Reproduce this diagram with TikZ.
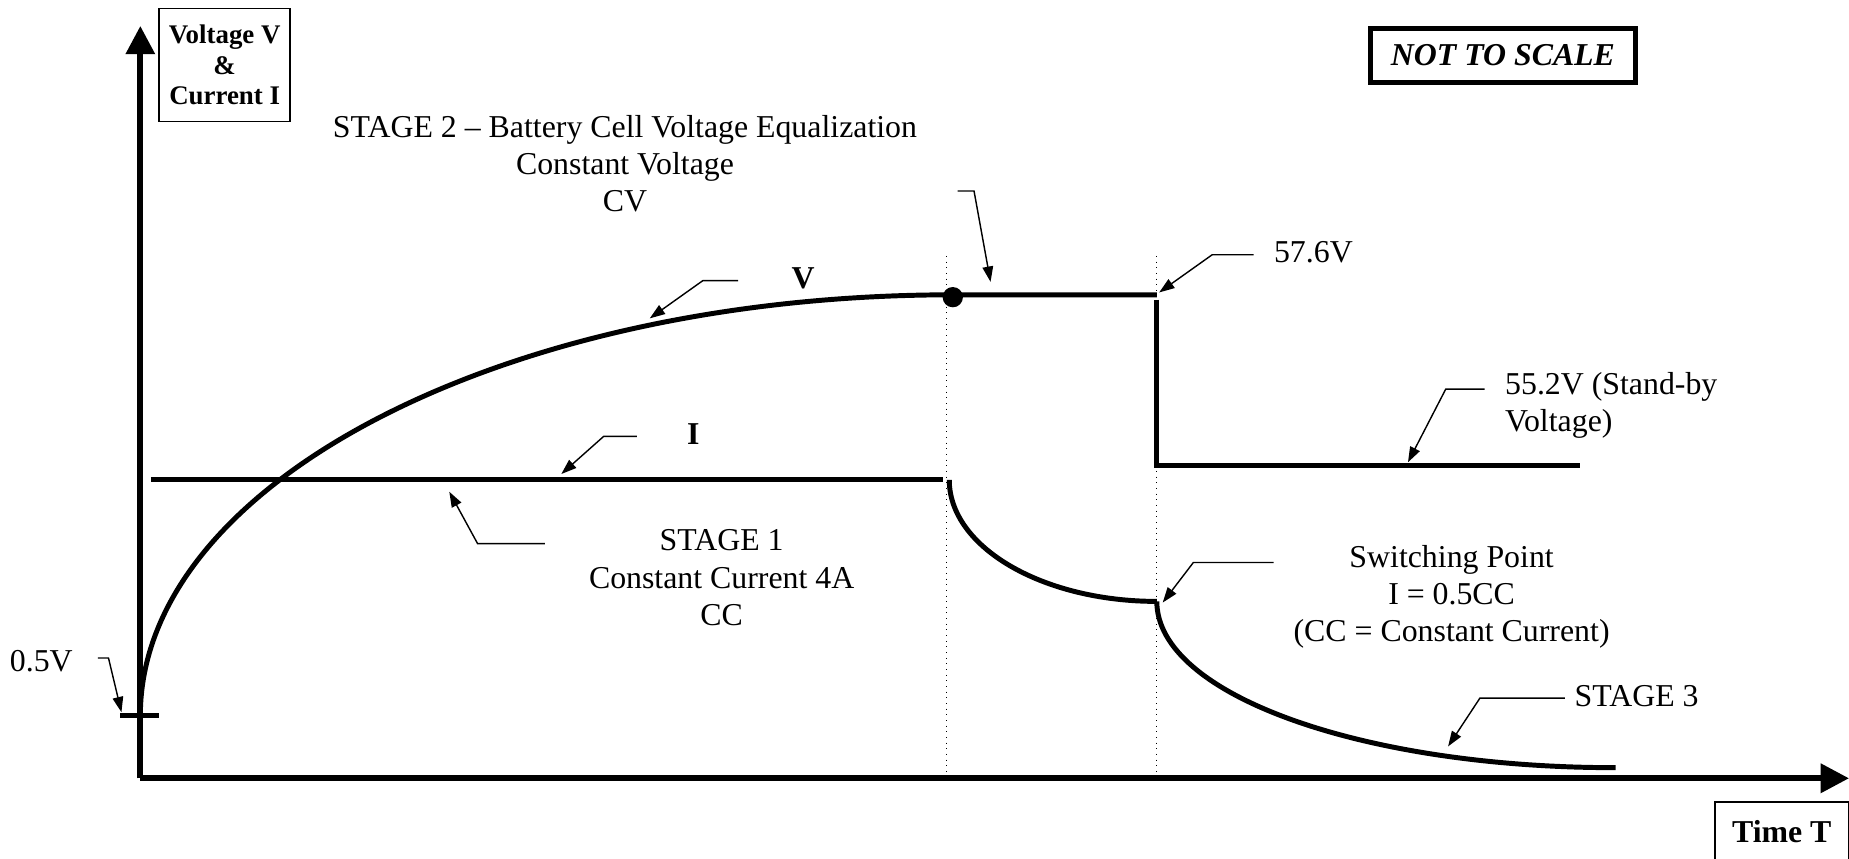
\documentclass[tikz,border=0pt]{standalone}
\usepackage{fontspec}
\setmainfont{Liberation Serif}
\usetikzlibrary{arrows.meta, positioning}

\begin{document}
\begin{tikzpicture}[x=0.5pt, y=-0.5pt,
    every node/.style={inner sep=0pt, font=\fontsize{13.5}{15.8}\selectfont},
    axis/.style={line width=2.4pt, -{Triangle[length=12pt, width=12pt]}},
    curve/.style={line width=2.1pt},
    lead/.style={line width=0.6pt, -{Triangle[length=6.5pt, width=4.5pt]}},
    guide/.style={line width=0.4pt, dotted},
    bold/.style={font=\bfseries\fontsize{13.5}{16}\selectfont}]
  \useasboundingbox (0,0) rectangle (1568,728);

  % axes
  \coordinate (o) at (119,660);
  \coordinate (yt) at (119,22);
  \coordinate (xt) at (1568,660);
  \draw[axis] (o) -- (yt);
  \draw[axis] (o) -- (xt);

  \node[draw, line width=0.6pt, minimum width=55.5pt, minimum height=48pt, align=center,
        font=\bfseries\fontsize{11.4}{13}\selectfont] (vi) at (190.5,55) {Voltage V\\\&\\Current I};
  \node[draw, line width=0.6pt, minimum width=56.5pt, minimum height=25.5pt, bold] (t) at (1511,705.5) {Time T};
  \node[draw, line width=2.2pt, minimum width=112.5pt, minimum height=23pt,
        font=\bfseries\itshape\fontsize{13.5}{16}\selectfont] (nts) at (1274.5,47) {NOT TO SCALE};

  % texts
  \node[align=center] (s2) at (530,139) {STAGE 2 \textendash{} Battery Cell Voltage Equalization\\Constant Voltage\\CV};
  \node[align=center] (s1) at (612,490) {STAGE 1\\Constant Current 4A\\CC};
  \node[align=center] (sw) at (1231,506) {Switching Point\\I = 0.5CC\\(CC = Constant Current)};
  \node[anchor=west] (s3) at (1335,590) {STAGE 3};
  \node[anchor=west] (hi) at (1080,214) {57.6V};
  \node[anchor=west, align=left] (sb) at (1276,344) {55.2V (Stand-by\\Voltage)};
  \node[anchor=west] (lo) at (8,561) {0.5V};
  \node[bold] (vl) at (681,236) {V};
  \node[bold] (il) at (588,368) {I};

  % guides
  \draw[guide] (803,217) -- (803,660);
  \draw[guide] (981,217) -- (981,660);

  % voltage
  \coordinate (v0) at (119,607);
  \coordinate (vk) at (808,250);
  \coordinate (vd) at (981,250);
  \draw[curve] (v0) .. controls (119,410) and (427,250) .. (vk) -- (vd);
  \draw[curve] (981,254) -- (981,395) -- (1340,395);
  \fill (808,252) circle (4.3pt);
  \draw[curve] (102,607) -- (135,607);

  % current
  \coordinate (i0) at (805,407);
  \coordinate (sp) at (981,510);
  \coordinate (ie) at (1370,651);
  \draw[curve] (128,407) -- (800,407);
  \draw[curve] (i0) .. controls (805,464) and (884,510) .. (sp);
  \draw[curve] (sp) .. controls (981,589) and (1155,651) .. (ie);

  % leaders
  \coordinate (a2) at (812,162);  \coordinate (b2) at (840,239);
  \coordinate (av) at (626,238);  \coordinate (bv) at (551,270);
  \coordinate (ai) at (540,370);  \coordinate (bi) at (476,402);
  \coordinate (a1) at (462,461);  \coordinate (b1) at (381,417);
  \coordinate (ah) at (1063,216); \coordinate (bh) at (983,248);
  \coordinate (ab) at (1259,330); \coordinate (bb) at (1194,392);
  \coordinate (aw) at (1080,477); \coordinate (bw) at (986,511);
  \coordinate (a3) at (1327,592); \coordinate (b3) at (1228,633);
  \coordinate (al) at (83,558);   \coordinate (bl) at (103,604);
  \draw[lead] (a2) -- ++(14,0) -- (b2);
  \draw[lead] (av) -- ++(-30,0) -- (bv);
  \draw[lead] (ai) -- ++(-28,0) -- (bi);
  \draw[lead] (a1) -- ++(-57,0) -- (b1);
  \draw[lead] (ah) -- ++(-35,0) -- (bh);
  \draw[lead] (ab) -- ++(-33,0) -- (bb);
  \draw[lead] (aw) -- ++(-68,0) -- (bw);
  \draw[lead] (a3) -- ++(-72,0) -- (b3);
  \draw[lead] (al) -- ++(9,0) -- (bl);
\end{tikzpicture}
\end{document}
